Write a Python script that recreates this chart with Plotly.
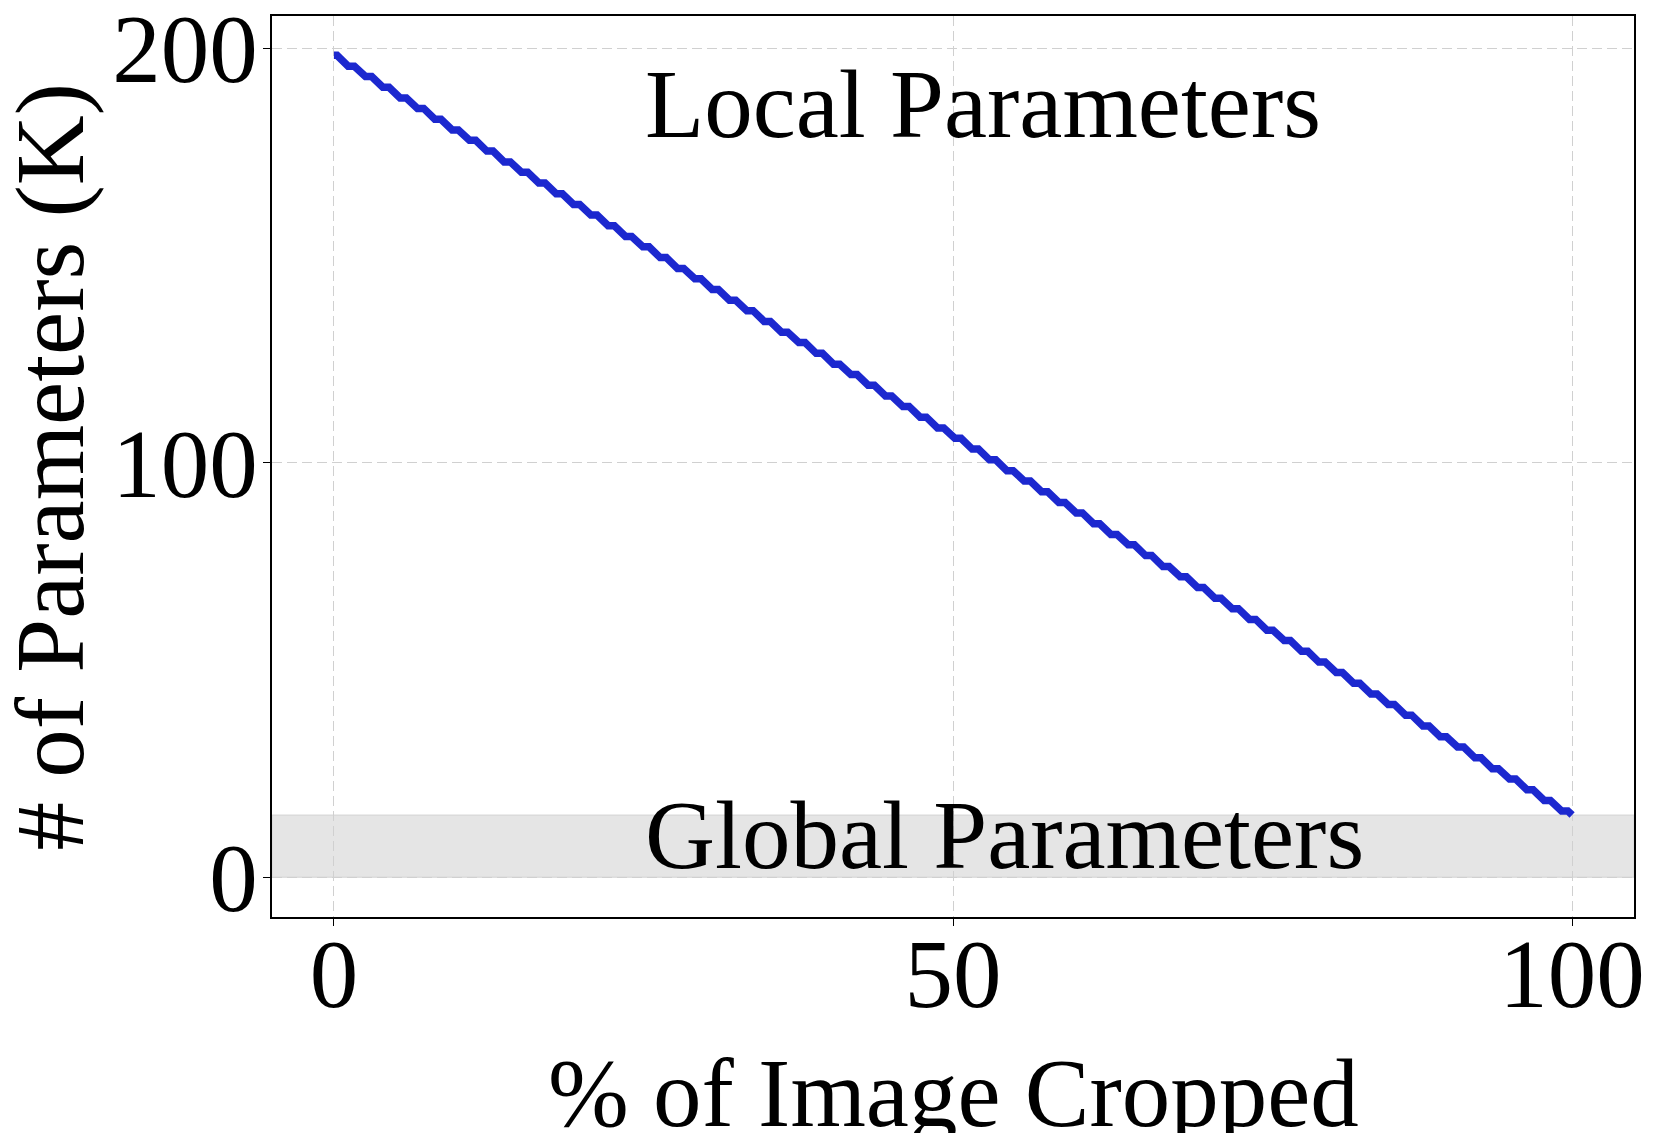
import plotly.graph_objects as go

# ---- data ----
# each step of the curve: a short flat run [seg_x0, seg_x1] at level seg_y (K params)
seg_x0 = [0.0, 1.15, 2.55, 3.95, 5.35, 6.75, 8.15, 9.55, 10.95, 12.35,
          13.75, 15.15, 16.55, 17.95, 19.35, 20.75, 22.15, 23.55, 24.95, 26.35,
          27.75, 29.15, 30.55, 31.95, 33.35, 34.75, 36.15, 37.55, 38.95, 40.35,
          41.75, 43.15, 44.55, 45.95, 47.35, 48.75, 50.15, 51.55, 52.95, 54.35,
          55.75, 57.15, 58.55, 59.95, 61.35, 62.75, 64.15, 65.55, 66.95, 68.35,
          69.75, 71.15, 72.55, 73.95, 75.35, 76.75, 78.15, 79.55, 80.95, 82.35,
          83.75, 85.15, 86.55, 87.95, 89.35, 90.75, 92.15, 93.55, 94.95, 96.35,
          97.75, 99.15]
seg_x1 = [0.25, 1.65, 3.05, 4.45, 5.85, 7.25, 8.65, 10.05, 11.45, 12.85,
          14.25, 15.65, 17.05, 18.45, 19.85, 21.25, 22.65, 24.05, 25.45, 26.85,
          28.25, 29.65, 31.05, 32.45, 33.85, 35.25, 36.65, 38.05, 39.45, 40.85,
          42.25, 43.65, 45.05, 46.45, 47.85, 49.25, 50.65, 52.05, 53.45, 54.85,
          56.25, 57.65, 59.05, 60.45, 61.85, 63.25, 64.65, 66.05, 67.45, 68.85,
          70.25, 71.65, 73.05, 74.45, 75.85, 77.25, 78.65, 80.05, 81.45, 82.85,
          84.25, 85.65, 87.05, 88.45, 89.85, 91.25, 92.65, 94.05, 95.45, 96.85,
          98.25, 99.65]
seg_y = [198.3, 195.7, 193.2, 190.6, 188.0, 185.5, 182.9, 180.3, 177.8, 175.2,
         172.6, 170.1, 167.5, 164.9, 162.3, 159.8, 157.2, 154.6, 152.1, 149.5,
         146.9, 144.4, 141.8, 139.2, 136.7, 134.1, 131.5, 129.0, 126.4, 123.8,
         121.3, 118.7, 116.1, 113.6, 111.0, 108.4, 105.9, 103.3, 100.7, 98.1,
         95.6, 93.0, 90.4, 87.9, 85.3, 82.7, 80.2, 77.6, 75.0, 72.5,
         69.9, 67.3, 64.8, 62.2, 59.6, 57.1, 54.5, 51.9, 49.4, 46.8,
         44.2, 41.7, 39.1, 36.5, 33.9, 31.4, 28.8, 26.2, 23.7, 21.1,
         18.5, 16.0]
end_x = 100.0
end_y = 15.0

global_params = 15.0          # height of the shaded "Global Parameters" band

x_ticks = [0, 50, 100]
y_ticks = [0, 100, 200]

label_local = "Local Parameters"
label_global = "Global Parameters"
x_title = "% of Image Cropped"
y_title = "# of Parameters (K)"

# ---- build the polyline ----
xs, ys = [], []
for a, b, v in zip(seg_x0, seg_x1, seg_y):
    xs += [a, b]
    ys += [v, v]
xs.append(end_x)
ys.append(end_y)

FONT = "Liberation Serif, Times New Roman, serif"
FS = 97

fig = go.Figure()
fig.add_trace(go.Scatter(
    x=xs, y=ys, mode="lines",
    line=dict(color="#1c28cf", width=7.5),
    hoverinfo="skip", showlegend=False,
))

# shaded global-parameter band
fig.add_shape(type="rect", xref="paper", yref="y",
              x0=0, x1=1, y0=0, y1=global_params,
              fillcolor="#e5e5e5", line=dict(color="#d4d4d4", width=1),
              layer="below")

fig.add_annotation(x=25, y=186.5, xref="x", yref="y", text=label_local,
                   showarrow=False, xanchor="left", yanchor="middle",
                   font=dict(family=FONT, size=FS, color="black"))
fig.add_annotation(x=25, y=10.1, xref="x", yref="y", text=label_global,
                   showarrow=False, xanchor="left", yanchor="middle",
                   font=dict(family=FONT, size=FS, color="black"))

# axis titles
fig.add_annotation(x=0.5, y=-(1093 - 917) / 901, xref="paper", yref="paper",
                   text=x_title, showarrow=False, xanchor="center", yanchor="middle",
                   font=dict(family=FONT, size=FS, color="black"))
fig.add_annotation(x=(50 - 272) / 1362, y=0.5, xref="paper", yref="paper",
                   text=y_title, showarrow=False, textangle=-90,
                   xanchor="center", yanchor="middle",
                   font=dict(family=FONT, size=FS, color="black"))

axis_common = dict(
    showline=True, linecolor="black", linewidth=1.5, mirror=True,
    ticks="outside", ticklen=7, tickwidth=1.2, tickcolor="black",
    showgrid=True, gridcolor="#d0d0d0", gridwidth=1.3, griddash="10px,5px",
    zeroline=False, ticklabeloverflow="allow", automargin=False,
    tickfont=dict(family=FONT, size=FS, color="black"),
)

fig.update_xaxes(range=[-5, 105], tickmode="array", tickvals=x_ticks,
                 ticktext=[str(t) for t in x_ticks], ticklabelstandoff=-35,
                 **axis_common)
fig.update_yaxes(range=[-9.6, 207.8], tickmode="array", tickvals=y_ticks,
                 ticktext=[str(t) for t in y_ticks], ticklabelstandoff=-14,
                 **axis_common)

fig.update_layout(
    width=1661, height=1133,
    margin=dict(l=272, r=27, t=16, b=216, autoexpand=False),
    paper_bgcolor="white", plot_bgcolor="white",
    font=dict(family=FONT, size=FS, color="black"),
)

fig.write_html("out.html", config={"displayModeBar": False},
               post_script="document.body.style.margin='0px';document.body.style.overflow='hidden';")
